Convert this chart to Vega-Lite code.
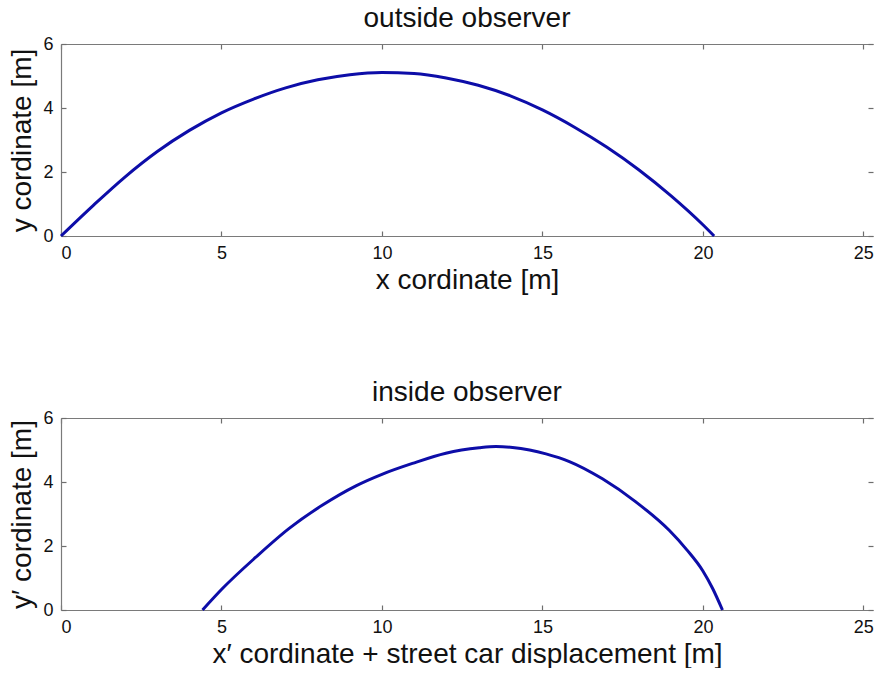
{
  "$schema": "https://vega.github.io/schema/vega-lite/v6.json",
  "background": "white",
  "padding": {"left": 8, "top": 5, "right": 0, "bottom": 0},
  "bounds": "flush",
  "spacing": 182,
  "datasets": {
    "outside": [
      {"x": 0, "y": 0}, {"x": 1, "y": 0.95}, {"x": 2, "y": 1.85}, {"x": 3, "y": 2.64},
      {"x": 4, "y": 3.3}, {"x": 5, "y": 3.85}, {"x": 6, "y": 4.28}, {"x": 7, "y": 4.63},
      {"x": 8, "y": 4.88}, {"x": 9, "y": 5.04}, {"x": 10, "y": 5.11}, {"x": 11, "y": 5.08},
      {"x": 12, "y": 4.94}, {"x": 13, "y": 4.71}, {"x": 14, "y": 4.38}, {"x": 15, "y": 3.94},
      {"x": 16, "y": 3.4}, {"x": 17, "y": 2.78}, {"x": 18, "y": 2.07}, {"x": 19, "y": 1.26},
      {"x": 20, "y": 0.35}, {"x": 20.35, "y": 0}
    ],
    "inside": [
      {"x": 4.41, "y": 0}, {"x": 5.03, "y": 0.67}, {"x": 6.07, "y": 1.65}, {"x": 7.11, "y": 2.55},
      {"x": 8.15, "y": 3.28}, {"x": 9.19, "y": 3.88}, {"x": 10.0, "y": 4.24}, {"x": 10.95, "y": 4.58},
      {"x": 11.99, "y": 4.9}, {"x": 13.03, "y": 5.07}, {"x": 13.55, "y": 5.11}, {"x": 14.07, "y": 5.08},
      {"x": 14.6, "y": 5.0}, {"x": 15.11, "y": 4.88}, {"x": 15.84, "y": 4.64}, {"x": 16.87, "y": 4.1},
      {"x": 17.91, "y": 3.38}, {"x": 18.95, "y": 2.49}, {"x": 19.5, "y": 1.88}, {"x": 20.0, "y": 1.22},
      {"x": 20.3, "y": 0.68}, {"x": 20.61, "y": 0}
    ]
  },
  "config": {
    "font": "Liberation Sans",
    "view": {"stroke": null},
    "axis": {
      "domain": true,
      "domainColor": "#7a7a7a",
      "domainWidth": 1.2,
      "grid": false,
      "tickColor": "#6e6e6e",
      "tickWidth": 1.2,
      "tickSize": -5,
      "labelFont": "Liberation Sans",
      "labelFontSize": 18,
      "labelColor": "#111111",
      "labelPadding": 13,
      "titleFont": "Liberation Sans",
      "titleFontSize": 28,
      "titleFontWeight": "normal",
      "titleColor": "#111111"
    },
    "title": {"font": "Liberation Sans", "fontSize": 28, "fontWeight": "normal", "color": "#111111", "offset": 2}
  },
  "vconcat": [
    {
      "title": "outside observer",
      "width": 812,
      "height": 192,
      "data": {"name": "outside"},
      "layer": [
        {
          "mark": {"type": "line", "color": "#0d0da8", "strokeWidth": 3, "interpolate": "monotone"},
          "encoding": {
            "x": {"field": "x", "type": "quantitative", "scale": {"domain": [0, 25.3], "nice": false},
                  "axis": {"orient": "bottom", "values": [0, 5, 10, 15, 20, 25], "title": "x cordinate [m]", "titlePadding": 4}},
            "y": {"field": "y", "type": "quantitative", "scale": {"domain": [0, 6], "nice": false},
                  "axis": {"orient": "left", "values": [0, 2, 4, 6], "title": "y cordinate [m]", "titlePadding": 6}}
          }
        },
        {
          "mark": {"type": "line", "opacity": 0},
          "encoding": {
            "x": {"field": "x", "type": "quantitative",
                  "axis": {"orient": "top", "values": [0, 5, 10, 15, 20, 25], "labels": false, "title": null}},
            "y": {"field": "y", "type": "quantitative",
                  "axis": {"orient": "right", "values": [0, 2, 4, 6], "labels": false, "title": null, "domain": false}}
          }
        }
      ],
      "resolve": {"axis": {"x": "independent", "y": "independent"}}
    },
    {
      "title": "inside observer",
      "width": 812,
      "height": 192,
      "data": {"name": "inside"},
      "layer": [
        {
          "mark": {"type": "line", "color": "#0d0da8", "strokeWidth": 3, "interpolate": "monotone"},
          "encoding": {
            "x": {"field": "x", "type": "quantitative", "scale": {"domain": [0, 25.3], "nice": false},
                  "axis": {"orient": "bottom", "values": [0, 5, 10, 15, 20, 25], "title": "x′ cordinate + street car displacement [m]", "titlePadding": 4}},
            "y": {"field": "y", "type": "quantitative", "scale": {"domain": [0, 6], "nice": false},
                  "axis": {"orient": "left", "values": [0, 2, 4, 6], "title": "y′ cordinate [m]", "titlePadding": 6}}
          }
        },
        {
          "mark": {"type": "line", "opacity": 0},
          "encoding": {
            "x": {"field": "x", "type": "quantitative",
                  "axis": {"orient": "top", "values": [0, 5, 10, 15, 20, 25], "labels": false, "title": null}},
            "y": {"field": "y", "type": "quantitative",
                  "axis": {"orient": "right", "values": [0, 2, 4, 6], "labels": false, "title": null, "domain": false}}
          }
        }
      ],
      "resolve": {"axis": {"x": "independent", "y": "independent"}}
    }
  ]
}
